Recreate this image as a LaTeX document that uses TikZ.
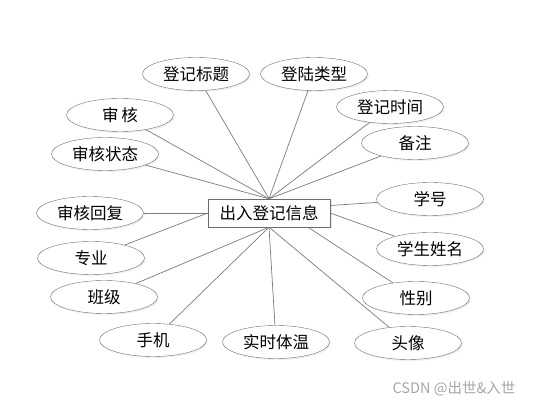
\documentclass[tikz,border=0pt]{standalone}
\usepackage{fontspec}
\setmainfont{Noto Sans CJK SC}
\usetikzlibrary{shapes.geometric,shadows}
\definecolor{eline}{HTML}{6E6E6E}
\definecolor{elink}{HTML}{7A7A7A}
\tikzset{
  attr/.style   = {draw=eline, ellipse, inner sep=0pt, minimum width=107pt,
                   minimum height=33pt, fill=white,
                   drop shadow={opacity=0.12, shadow xshift=1.5pt, shadow yshift=-1.5pt}},
  entity/.style = {draw=eline, rectangle, inner sep=0pt, minimum width=122pt,
                   minimum height=28pt, fill=white,
                   drop shadow={opacity=0.15, shadow xshift=1.5pt, shadow yshift=-1.5pt}},
  link/.style   = {draw=elink, line width=0.7pt},
}
\begin{document}
\begin{tikzpicture}[x=1pt, y=-1pt, font=\fontsize{16.5}{19}\selectfont]
\useasboundingbox (0,0) rectangle (535,411);
\coordinate (c) at (269,213);
% ---- attributes ----
\node[attr] (title)  at (196,74)  {登记标题};
\node[attr] (ltype)  at (314,74)  {登陆类型};
\node[attr] (rtime)  at (390,107) {登记时间};
\node[attr] (note)   at (415,143) {备注};
\node[attr] (audit)  at (120,115) {审\,核};
\node[attr] (astate) at (105,154) {审核状态};
\node[attr] (areply) at (90,213)  {审核回复};
\node[attr] (major)  at (91,258)  {专业};
\node[attr] (cls)    at (104,297) {班级};
\node[attr] (phone)  at (153,340) {手机};
\node[attr] (temp)   at (276,342) {实时体温};
\node[attr] (photo)  at (408,343) {头像};
\node[attr] (sex)    at (416,298) {性别};
\node[attr] (sname)  at (430,249) {学生姓名};
\node[attr] (sno)    at (430,199) {学号};
% ---- entity ----
\node[entity] (rec) at (c) {出入登记信息};
% ---- connectors ----
\foreach \n in {title,ltype,rtime,note,audit,astate}
  \draw[link] (\n) -- (rec.north);
\foreach \n in {areply,major}
  \draw[link] (\n) -- (rec.west);
\foreach \n in {cls,phone,temp,photo}
  \draw[link] (\n) -- (rec.south);
\draw[link] (sex) -- (rec.-20);
\draw[link] (sname) -- (rec.east);
\draw[link] (sno) -- (rec.7);
% ---- watermark ----
\node[text=gray!70, font=\fontsize{14.5}{17}\selectfont] (mark) at (454,389) {CSDN @出世\&入世};
\end{tikzpicture}
\end{document}
